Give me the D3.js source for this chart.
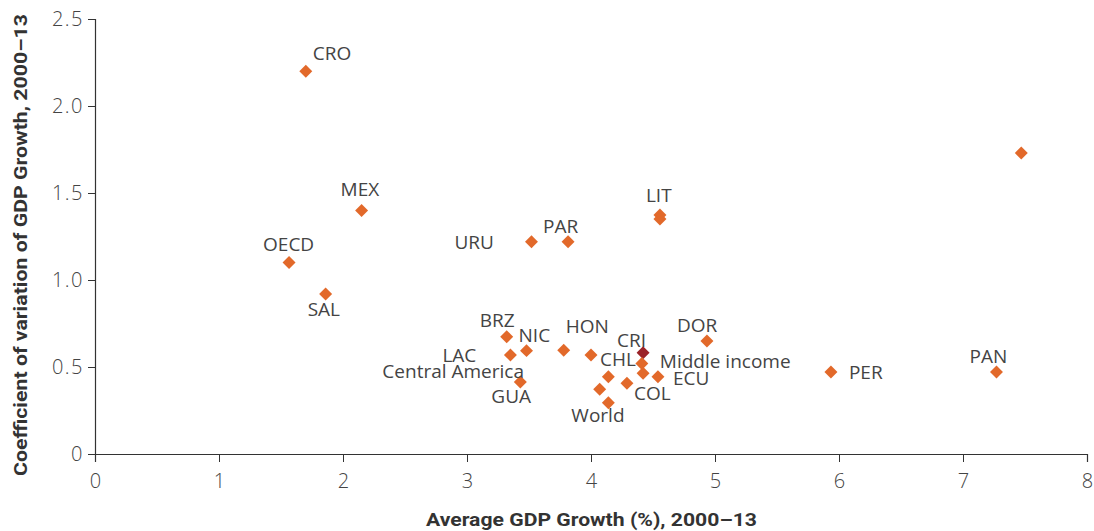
<!DOCTYPE html>
<html>
<head>
<meta charset="utf-8">
<script src="https://cdn.jsdelivr.net/npm/d3@7"></script>
<style>
  html, body { margin: 0; padding: 0; background: #fff; }
  svg { display: block; }
  .tick text { font-family: "Open Sans", Roboto, sans-serif; font-weight: 300; font-size: 20px; fill: #444; }
  .pt-label { font-family: "Open Sans", Roboto, sans-serif; font-weight: 400; font-size: 19px; fill: #444; }
  .axis-title { font-family: Roboto, "Liberation Sans", sans-serif; font-weight: 700; font-size: 19px; fill: #333; }
</style>
</head>
<body>
<svg id="chart" width="1094" height="531"></svg>
<script>
// Average GDP growth (%) and coefficient of variation of GDP growth, 2000–13
const names = ["CRO", "MEX", "OECD", "SAL", "URU", "PAR", "LIT", "", "",
  "PER", "PAN", "DOR", "BRZ", "NIC", "LAC", "GUA", "HON", "CHL", "CRI",
  "Middle income", "", "ECU", "Central America", "COL", "", "World"];
const avgGrowth = [1.70, 2.15, 1.565, 1.86, 3.52, 3.815, 4.556, 4.556, 7.47,
  5.935, 7.27, 4.935, 3.32, 3.48, 3.35, 3.43, 3.78, 4.00, 4.42,
  4.41, 4.42, 4.54, 4.14, 4.29, 4.07, 4.14];
const growthCV = [2.20, 1.40, 1.10, 0.92, 1.22, 1.22, 1.374, 1.351, 1.73,
  0.471, 0.471, 0.649, 0.674, 0.594, 0.569, 0.414, 0.596, 0.569, 0.582,
  0.52, 0.464, 0.444, 0.444, 0.406, 0.372, 0.295];
const highlighted = ["CRI"];

const xTicks = [0, 1, 2, 3, 4, 5, 6, 7, 8];
const yTicks = [0, 0.5, 1.0, 1.5, 2.0, 2.5];

// label placement (pixel offset of the text's left edge / baseline from its marker)
const labelOffset = {
  "CRO": [7, -11], "MEX": [-21, -14], "OECD": [-26, -12], "SAL": [-18, 22],
  "URU": [-77, 7], "PAR": [-25, -9], "LIT": [-14, -13], "PER": [18, 7],
  "PAN": [-27, -9], "DOR": [-30, -9], "BRZ": [-27, -10], "NIC": [-8, -9],
  "LAC": [-68, 7], "GUA": [-29, 21], "HON": [2, -17], "CHL": [9, 11],
  "CRI": [-26, -6], "Middle income": [18, 4], "ECU": [15, 8],
  "Central America": [-226, 1], "COL": [7, 17], "World": [-37, 19]
};

const points = names.map((n, i) => ({ name: n, x: avgGrowth[i], y: growthCV[i] }));

const svg = d3.select("#chart");
const x = d3.scaleLinear().domain([0, 8]).range([95, 1087]);
const y = d3.scaleLinear().domain([0, 2.5]).range([454, 19]);

const axisColor = "#333";

svg.append("g")
  .attr("transform", `translate(0,${y(0)})`)
  .call(d3.axisBottom(x).tickValues(xTicks).tickFormat(d3.format("d")).tickSize(8).tickPadding(12))
  .call(g => g.select(".domain").attr("stroke", axisColor).attr("stroke-width", 1.2))
  .call(g => g.selectAll(".tick line").attr("stroke", axisColor));

svg.append("g")
  .attr("transform", `translate(${x(0)},0)`)
  .call(d3.axisLeft(y).tickValues(yTicks).tickFormat(d => d === 0 ? "0" : d3.format(".1f")(d)).tickSize(7).tickPadding(4))
  .call(g => g.select(".domain").attr("stroke", axisColor).attr("stroke-width", 1.2))
  .call(g => g.selectAll(".tick line").attr("stroke", axisColor))
  .call(g => g.selectAll(".tick text").attr("letter-spacing", "1.5px"));

// markers
const diamond = d3.symbol().type(d3.symbolSquare).size(84);
svg.append("g").selectAll("path")
  .data(points)
  .join("path")
  .attr("d", diamond)
  .attr("transform", d => `translate(${x(d.x)},${y(d.y)}) rotate(45)`)
  .attr("fill", d => highlighted.includes(d.name) ? "#9b2328" : "#e2692a");

// labels
svg.append("g").selectAll("text")
  .data(points.filter(d => d.name))
  .join("text")
  .attr("class", "pt-label")
  .attr("x", d => x(d.x) + labelOffset[d.name][0])
  .attr("y", d => y(d.y) + labelOffset[d.name][1])
  .text(d => d.name);

// axis titles (condensed to fit their runs)
svg.append("text")
  .attr("class", "axis-title")
  .attr("x", 426).attr("y", 526)
  .attr("textLength", 331).attr("lengthAdjust", "spacingAndGlyphs")
  .text("Average GDP Growth (%), 2000–13");

svg.append("text")
  .attr("class", "axis-title")
  .attr("transform", "translate(27,476) rotate(-90)")
  .attr("textLength", 462).attr("lengthAdjust", "spacingAndGlyphs")
  .text("Coefficient of variation of GDP Growth, 2000–13");
</script>
</body>
</html>
